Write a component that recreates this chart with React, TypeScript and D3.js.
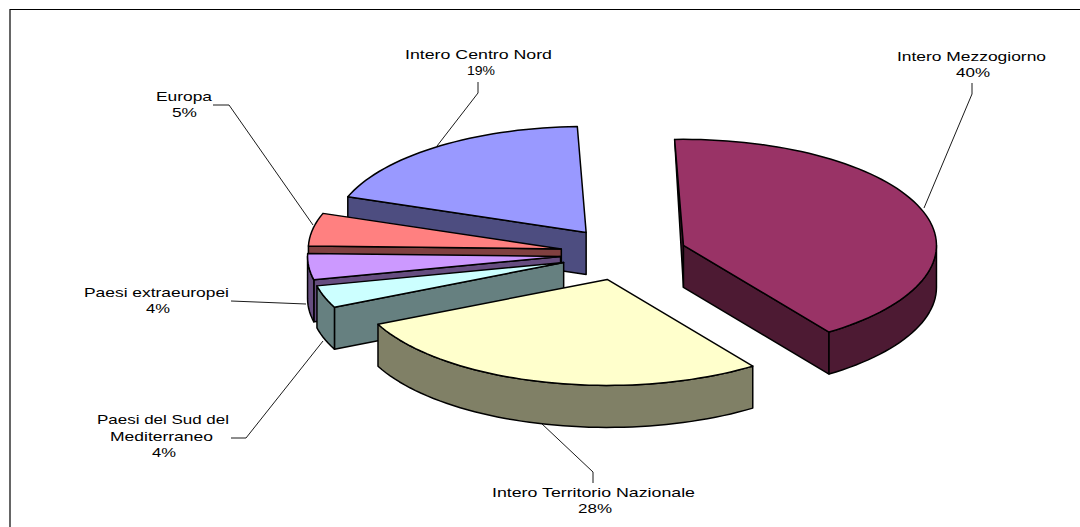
import React from "react";
import * as d3 from "d3";

const categories = [
  "Intero Mezzogiorno",
  "Intero Territorio Nazionale",
  "Paesi del Sud del Mediterraneo",
  "Paesi extraeuropei",
  "Europa",
  "Intero Centro Nord",
];
const values = [40.8, 27.8, 3.4, 4.0, 5.0, 19.0];
// percentages as printed on the labels
const shares = [40, 28, 4, 4, 5, 19];
const topColors = ["#993366", "#FFFFCC", "#CCFFFF", "#CC99FF", "#FF8080", "#9999FF"];
const sideColors = ["#4D1A33", "#808066", "#668080", "#664D80", "#804040", "#4D4D80"];

// label layout: text lines with [x0, x1, baseline]; the final line is the percentage
const labelLines: [number, number, number][][] = [
  [[897, 1046, 61], [956, 990, 77]],
  [[492, 695, 497], [578, 612, 513]],
  [[97, 229, 424], [110, 213, 441], [152, 176, 457]],
  [[84, 229, 297], [146, 170, 313]],
  [[156, 212, 100.5], [172, 197, 116.7]],
  [[405, 552, 59], [467, 495, 75]],
];
const labelBreaks: string[][] = [
  ["Intero Mezzogiorno"],
  ["Intero Territorio Nazionale"],
  ["Paesi del Sud del", "Mediterraneo"],
  ["Paesi extraeuropei"],
  ["Europa"],
  ["Intero Centro Nord"],
];
const leaders: [number, number][][] = [
  [[972, 83], [972, 94], [924, 208]],
  [[593, 483], [593, 472], [541, 423]],
  [[231, 438], [246, 438], [323, 341]],
  [[231, 301], [306, 304]],
  [[213, 105], [229, 105], [313, 225]],
  [[478, 82], [478, 93], [437, 146]],
];

const W = 1080;
const H = 527;
const CX = 623.5;
const CY = 253.8;
const RX = 253;
const RY = 106;
const DEPTH = 42;
const EXPLODE = 0.25;
const STROKE = 1.5;
const deg = Math.PI / 180;

const pie = d3
  .pie<number>()
  .sort(null)
  .startAngle(-2 * deg)
  .endAngle(358 * deg);

const lineGen = d3.line<[number, number]>();

function arcPoints(a0: number, a1: number, ax: number, ay: number): [number, number][] {
  const n = Math.max(2, Math.ceil(Math.abs(a1 - a0) / (2 * deg)));
  return d3.range(n + 1).map((i) => {
    const a = a0 + ((a1 - a0) * i) / n;
    return [ax + RX * Math.sin(a), ay - RY * Math.cos(a)] as [number, number];
  });
}

function Slice({ a0, a1, top, side }: { a0: number; a1: number; top: string; side: string }) {
  const mid = (a0 + a1) / 2;
  const ax = CX + EXPLODE * RX * Math.sin(mid);
  const ay = CY - EXPLODE * RY * Math.cos(mid);
  const apex: [number, number] = [ax, ay];
  const apexB: [number, number] = [ax, ay + DEPTH];
  const rim = arcPoints(a0, a1, ax, ay);
  const common = { stroke: "#000", strokeWidth: STROKE, strokeLinejoin: "round" as const, fill: side };

  const face = (a: number) => {
    const p = arcPoints(a, a, ax, ay)[0];
    const pB: [number, number] = [p[0], p[1] + DEPTH];
    const sliver = Math.abs(Math.sin(a)) < 0.1;
    const pts: [number, number][] = sliver ? [p, apexB, apex] : [p, pB, apexB, apex];
    return <path d={lineGen(pts) + "Z"} {...common} />;
  };

  const lo = Math.max(a0, 90 * deg);
  const hi = Math.min(a1, 270 * deg);
  let wall = null;
  if (hi > lo) {
    const t = arcPoints(lo, hi, ax, ay);
    const b = t.map(([x, y]) => [x, y + DEPTH] as [number, number]).reverse();
    wall = <path d={lineGen([...t, ...b]) + "Z"} {...common} />;
  }

  return (
    <g>
      {Math.sin(a0) < 0 && face(a0)}
      {Math.sin(a1) > 0 && face(a1)}
      {wall}
      <path d={lineGen([apex, ...rim]) + "Z"} {...common} fill={top} />
    </g>
  );
}

function Stretched({ text, x0, x1, y }: { text: string; x0: number; x1: number; y: number }) {
  return (
    <text
      x={x0}
      y={y}
      textLength={x1 - x0}
      lengthAdjust="spacingAndGlyphs"
      fontFamily="'Liberation Sans', Arial, sans-serif"
      fontSize={13.5}
      fill="#000"
    >
      {text}
    </text>
  );
}

export default function App() {
  const arcs = pie(values);
  const order = [5, 4, 3, 2, 1, 0];
  return (
    <svg
      width={W}
      height={H}
      viewBox={`0 0 ${W} ${H}`}
      style={{ position: "absolute", left: 0, top: 0, display: "block", background: "#fff" }}
    >
      <path d={`M1080,9.5H10V527`} fill="none" stroke="#000" strokeWidth={1.2} />
      {leaders.map((pts, i) => (
        <path key={categories[i]} d={lineGen(pts) ?? ""} fill="none" stroke="#000" strokeWidth={0.9} />
      ))}
      {order.map((i) => (
        <Slice key={i} a0={arcs[i].startAngle} a1={arcs[i].endAngle} top={topColors[i]} side={sideColors[i]} />
      ))}
      {categories.map((c, i) => {
        const texts = [...labelBreaks[i], `${shares[i]}%`];
        return (
          <g key={c}>
            {texts.map((t, j) => (
              <Stretched key={j} text={t} x0={labelLines[i][j][0]} x1={labelLines[i][j][1]} y={labelLines[i][j][2]} />
            ))}
          </g>
        );
      })}
    </svg>
  );
}
